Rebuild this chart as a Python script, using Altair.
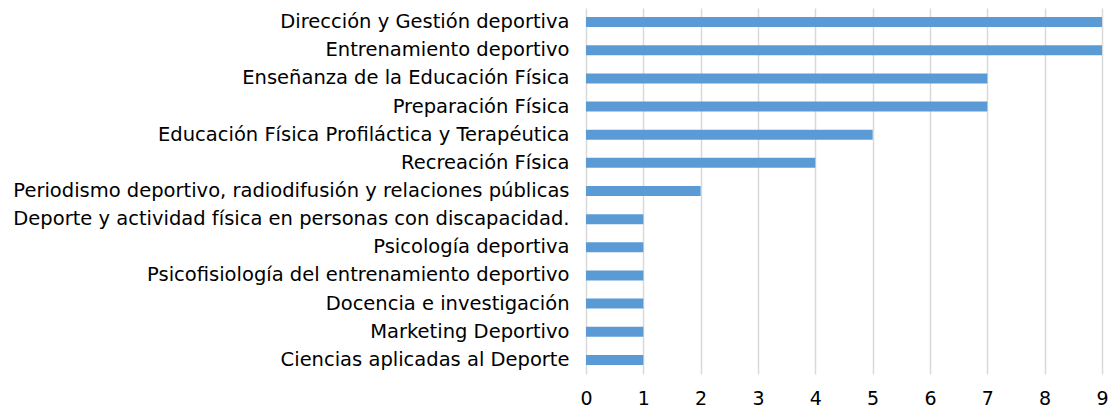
import altair as alt
import pandas as pd

categories = [
    "Dirección y Gestión deportiva",
    "Entrenamiento deportivo",
    "Enseñanza de la Educación Física",
    "Preparación Física\u00a0",
    "Educación Física Profiláctica y Terapéutica\u00a0",
    "Recreación Física",
    "Periodismo deportivo, radiodifusión y relaciones públicas",
    "Deporte y actividad física en personas con discapacidad.",
    "Psicología deportiva",
    "Psicofisiología del entrenamiento deportivo",
    "Docencia e investigación",
    "Marketing Deportivo",
    "Ciencias aplicadas al Deporte",
]
values = [9, 9, 7, 7, 5, 4, 2, 1, 1, 1, 1, 1, 1]
x_ticks = list(range(0, 10))

df = pd.DataFrame({"categoria": categories, "valor": values})

chart = alt.Chart(df).mark_bar(size=10, color="#5B9BD5").encode(
    x=alt.X("valor:Q", scale=alt.Scale(domain=[0, 9], nice=False),
            axis=alt.Axis(values=x_ticks, title=None, ticks=False, domain=False,
                          grid=True, gridColor="#D9D9D9", gridWidth=1.5,
                          labelFontSize=19, labelPadding=15, labelColor="#000000",
                          labelFont="DejaVu Sans", format="d", labelFlush=False)),
    y=alt.Y("categoria:N", sort=categories,
            axis=alt.Axis(title=None, ticks=False, domain=False, grid=False,
                          labelFontSize=19.5, labelPadding=17, labelColor="#000000",
                          labelFont="DejaVu Sans", labelLimit=1000)),
).properties(
    width=516, height=366,
    autosize=alt.AutoSizeParams(type="none"),
    padding={"left": 578, "top": 0, "right": 6, "bottom": 38},
).configure_view(stroke=None)

chart.save("out.html", embed_options={"renderer": "svg", "actions": False})
